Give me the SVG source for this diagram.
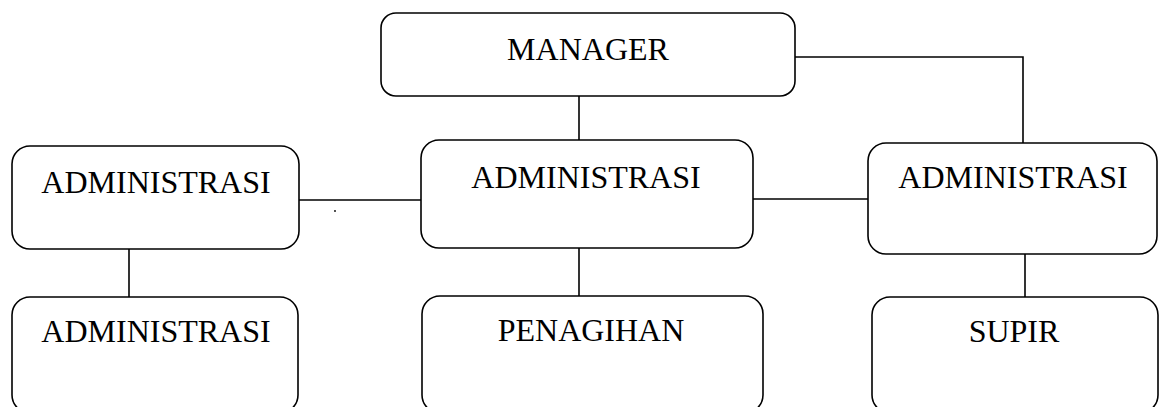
<svg xmlns="http://www.w3.org/2000/svg" width="1165" height="407" viewBox="0 0 1165 407">
<style>
.box{fill:#fff;stroke:#000;stroke-width:1.6}
.lbl{font-family:"Liberation Serif","Times New Roman",serif;font-size:32px;fill:#000;text-anchor:middle}
.con{fill:none;stroke:#000;stroke-width:1.6}
</style>
<rect width="1165" height="407" fill="#fff"/>
<g id="connectors">
<line class="con" x1="579" y1="96" x2="579" y2="140"/>
<polyline class="con" points="793,57 1023,57 1023,143"/>
<line class="con" x1="299" y1="200" x2="421" y2="200"/>
<line class="con" x1="753" y1="199" x2="868" y2="199"/>
<line class="con" x1="129" y1="249" x2="129" y2="297"/>
<line class="con" x1="579" y1="248" x2="579" y2="296"/>
<line class="con" x1="1025" y1="254" x2="1025" y2="297"/>
<circle cx="335" cy="211" r="0.9" fill="#000"/>
</g>
<g id="manager"><rect class="box" x="381" y="13" width="414" height="83" rx="15"/><text class="lbl" x="588" y="60">MANAGER</text></g>
<g id="admin-left"><rect class="box" x="12" y="146" width="287" height="103" rx="18"/><text class="lbl" x="156" y="193">ADMINISTRASI</text></g>
<g id="admin-center"><rect class="box" x="421" y="140" width="332" height="108" rx="18"/><text class="lbl" x="586" y="188">ADMINISTRASI</text></g>
<g id="admin-right"><rect class="box" x="868" y="143" width="289" height="111" rx="18"/><text class="lbl" x="1013" y="188">ADMINISTRASI</text></g>
<g id="admin-bottom"><rect class="box" x="12" y="297" width="286" height="116" rx="18"/><text class="lbl" x="156" y="342">ADMINISTRASI</text></g>
<g id="penagihan"><rect class="box" x="422" y="296" width="341" height="117" rx="18"/><text class="lbl" x="591" y="341">PENAGIHAN</text></g>
<g id="supir"><rect class="box" x="872" y="297" width="286" height="116" rx="18"/><text class="lbl" x="1014" y="342">SUPIR</text></g>
</svg>
